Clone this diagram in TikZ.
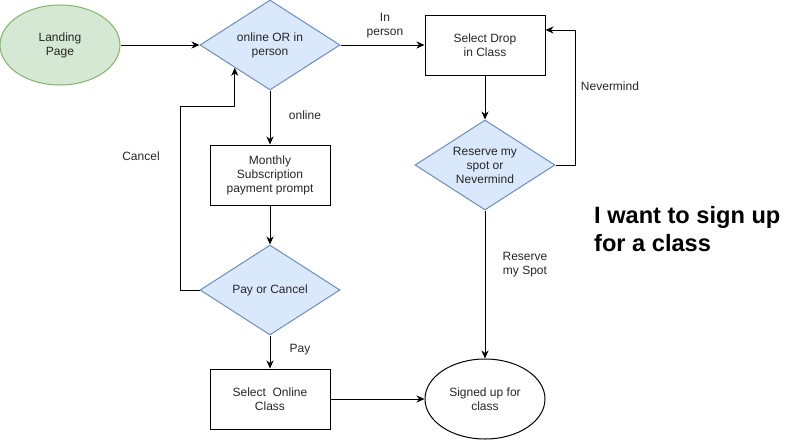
\documentclass[tikz,border=0pt]{standalone}
\usepackage{fontspec}
\setmainfont{Liberation Sans}
\usetikzlibrary{shapes.geometric,arrows.meta}
\definecolor{gfill}{HTML}{D5E8D4}
\definecolor{gline}{HTML}{82B366}
\definecolor{bfill}{HTML}{DAE8FC}
\definecolor{bline}{HTML}{6C8EBF}
\tikzset{
  base/.style={font=\fontsize{12}{14}\selectfont, text=black!85, align=center, inner sep=0pt, line width=1pt},
  greenell/.style={base, ellipse, draw=gline, fill=gfill, minimum width=120pt, minimum height=80pt},
  whiteell/.style={base, ellipse, draw=black, fill=white, minimum width=120pt, minimum height=80pt},
  decide/.style={base, diamond, aspect=1.556, draw=bline, fill=bfill, minimum width=140pt, minimum height=90pt},
  procbox/.style={base, rectangle, draw=black, fill=white, minimum width=120pt, minimum height=60pt},
  arr/.style={line width=1pt, -{Stealth[length=8pt,width=7pt,inset=2.5pt]}},
  lbl/.style={font=\fontsize{12}{14}\selectfont, text=black!85, align=center, inner sep=0pt},
}
\begin{document}
\begin{tikzpicture}[x=1pt,y=-1pt]
\useasboundingbox (0,0) rectangle (801,440);
\node[greenell] (land) at (60,45) {Landing\\Page};
\node[decide] (d1) at (270,45) {online OR in\\person};
\node[procbox] (month) at (270,175) {Monthly\\Subscription\\payment prompt};
\node[decide] (pay) at (270,290) {Pay or Cancel};
\node[procbox] (online) at (270,399) {Select\ \ Online\\Class};
\node[whiteell] (signed) at (485,399) {Signed up for\\class};
\node[procbox] (drop) at (485,45) {Select Drop\\in Class};
\node[decide] (rsv) at (485,165) {Reserve my\\spot or\\Nevermind};
\coordinate (c1) at (180,106);
\coordinate (c3) at (575,30);

\draw[arr] (land) -- (d1);
\draw[arr] (d1) -- (drop);
\draw[arr] (d1) -- (month);
\draw[arr] (month) -- (pay);
\draw[arr] (pay) -- (online);
\draw[arr] (online) -- (signed);
\draw[arr] (drop) -- (rsv);
\draw[arr] (rsv) -- (signed);
\draw[arr] (pay.west) -| (c1) -| (d1.south west);
\draw[arr] (rsv.east) -| (c3) -- (c3 -| drop.east);

\node[lbl] (lin) at (385,26) {In\\person};
\node[lbl] (lonl) at (305,115) {online};
\node[lbl] (lcan) at (141,156) {Cancel};
\node[lbl] (lnev) at (610,86) {Nevermind};
\node[lbl] (lres) at (525,265) {Reserve\\my Spot};
\node[lbl] (lpay) at (300,350) {Pay};
\node[anchor=base west, align=left, inner sep=0pt, font=\fontsize{23.6}{28.5}\selectfont\bfseries] (title) at (594,251.5) {I want to sign up\\for a class};
\end{tikzpicture}
\end{document}
